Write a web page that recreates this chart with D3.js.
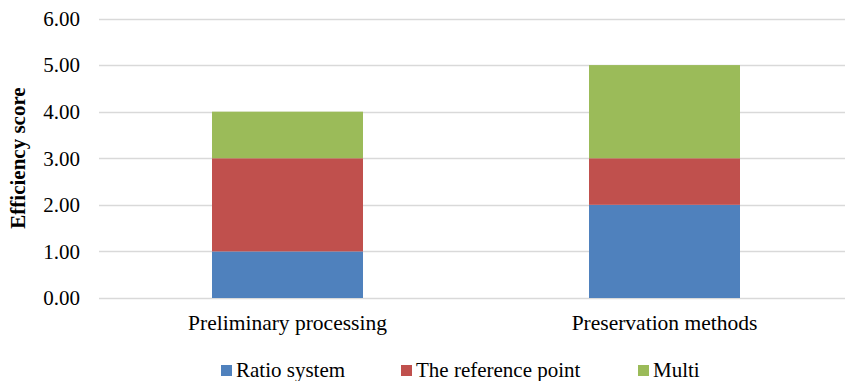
<!DOCTYPE html>
<html><head><meta charset="utf-8">
<script src="https://cdn.jsdelivr.net/npm/d3@7"></script>
<style>body{margin:0;background:#fff}svg{display:block}text{font-family:"Liberation Serif","Times New Roman",serif;fill:#000}</style>
</head><body>
<svg id="c" width="845" height="381"></svg>
<script>
const categories = ["Preliminary processing", "Preservation methods"];
const seriesNames = ["Ratio system", "The reference point", "Multi"];
const ratioSystem = [1, 2];
const referencePoint = [2, 1];
const multi = [1, 2];
const colors = ["#4F81BD", "#C0504D", "#9BBB59"];
const yTicks = [0, 1, 2, 3, 4, 5, 6];

const svg = d3.select("#c");
const x = d3.scaleBand().domain(categories).range([99, 853]).paddingInner(0.6).paddingOuter(0.3);
const y = d3.scaleLinear().domain([0, 6]).range([298, 18.5]);

// gridlines
svg.append("g").selectAll("line").data(yTicks).join("line")
  .attr("x1", 99).attr("x2", 845)
  .attr("y1", d => Math.round(y(d)) + 0.5).attr("y2", d => Math.round(y(d)) + 0.5)
  .attr("stroke", "#D9D9D9").attr("stroke-width", 1.3);

const table = categories.map((c, i) => ({cat: c, "Ratio system": ratioSystem[i], "The reference point": referencePoint[i], "Multi": multi[i]}));
const stacked = d3.stack().keys(seriesNames)(table);
const bw = 151;
svg.append("g").selectAll("g").data(stacked).join("g")
  .attr("fill", (d, i) => colors[i])
  .selectAll("rect").data(d => d).join("rect")
  .attr("x", d => x(d.data.cat) + x.bandwidth() / 2 - bw / 2)
  .attr("width", bw)
  .attr("y", d => y(d[1]))
  .attr("height", d => y(d[0]) - y(d[1]));

// y axis labels
svg.append("g").selectAll("text").data(yTicks).join("text")
  .attr("x", 80).attr("y", d => y(d)).attr("dy", "0.35em")
  .attr("text-anchor", "end").attr("font-size", 21)
  .text(d => d3.format(".2f")(d));

// x labels
svg.append("g").selectAll("text").data(categories).join("text")
  .attr("x", d => x(d) + x.bandwidth() / 2).attr("y", 330)
  .attr("text-anchor", "middle").attr("font-size", 21.5)
  .text(d => d);

// y title
svg.append("text").attr("transform", "translate(25,158) rotate(-90)")
  .attr("text-anchor", "middle").attr("font-size", 21).attr("font-weight", "bold")
  .text("Efficiency score");

// legend
const legX = [221, 401, 638];
const lg = svg.append("g").selectAll("g").data(seriesNames).join("g")
  .attr("transform", (d, i) => `translate(${legX[i]},365)`);
lg.append("rect").attr("width", 11).attr("height", 11).attr("fill", (d, i) => colors[i]);
lg.append("text").attr("x", 15).attr("y", 12).attr("font-size", 21).text(d => d);
</script>
</body></html>
